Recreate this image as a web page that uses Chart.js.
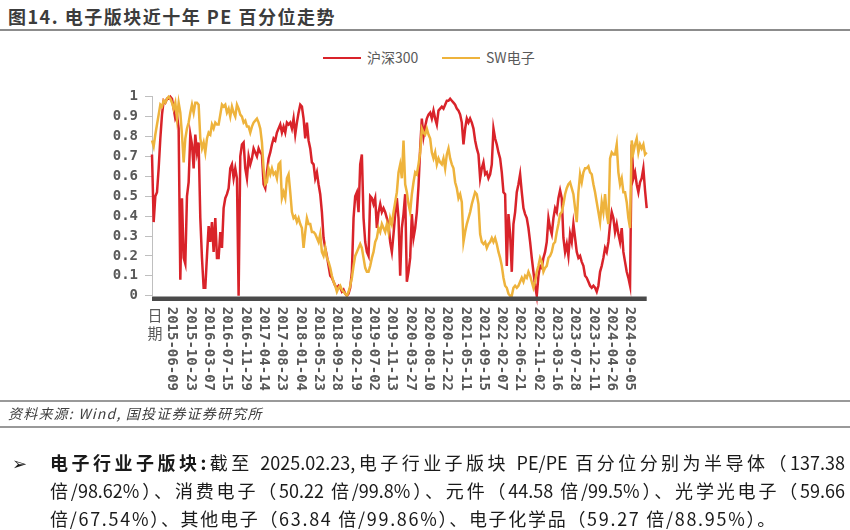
<!DOCTYPE html>
<html>
<head>
<meta charset="utf-8">
<script src="https://cdn.jsdelivr.net/npm/chart.js@4.4.1/dist/chart.umd.min.js"></script>
<style>
  body { margin: 0; background: #fff; width: 850px; height: 530px; position: relative; overflow: hidden; font-family: "Noto Sans CJK SC", sans-serif; }
  #c { position: absolute; left: 0; top: 0; }
  .title { position: absolute; left: 8px; top: 3px; font-size: 18px; font-weight: bold; color: #3c3c3c; letter-spacing: 1.5px; white-space: nowrap; }
  .rule { position: absolute; left: 0; width: 850px; background: #8c8c8c; }
  .legend { position: absolute; top: 47px; font-size: 14px; color: #595959; white-space: nowrap; line-height: 20px; }
  .legend i { display: inline-block; width: 38px; height: 2.5px; vertical-align: middle; margin-right: 6px; position: relative; top: -1px; }
  .src { position: absolute; left: 8px; top: 403px; font-size: 14px; font-style: italic; color: #404040; letter-spacing: 1.2px; white-space: nowrap; }
  .para { position: absolute; left: 50px; width: 795px; font-size: 18px; color: #1a1a1a; line-height: 28px; white-space: nowrap; }
  .just { text-align: justify; text-align-last: justify; }
</style>
</head>
<body>
<div class="title">图14. 电子版块近十年 PE 百分位走势</div>
<div class="rule" style="top:29px;height:2px;"></div>
<div class="legend" style="left:323px;"><i style="background:#d9232a"></i>沪深300</div>
<div class="legend" style="left:442px;"><i style="background:#eeb33c"></i>SW电子</div>
<canvas id="c" width="850" height="530"></canvas>
<div class="rule" style="top:400px;height:1.5px;background:#999"></div>
<div class="src">资料来源: Wind, 国投证券证券研究所</div>
<div class="rule" style="top:426px;height:1.5px;background:#999"></div>
<div class="para" style="left:12px;width:30px;top:448px;">➢</div>
<div class="para just" style="top:448px;"><b>电子行业子版块:</b>截至 2025.02.23,电子行业子版块 PE/PE 百分位分别为半导体（137.38</div>
<div class="para just" style="top:476px;">倍/98.62%）、消费电子（50.22 倍/99.8%）、元件（44.58 倍/99.5%）、光学光电子（59.66</div>
<div class="para" style="top:504px;letter-spacing:1.7px;">倍/67.54%）、其他电子（63.84 倍/99.86%）、电子化学品（59.27 倍/88.95%）。</div>
<script>
// PE percentile, sampled evenly over the trading days (index = sample no.)
const hs300 = [
  0.71,0.37,0.50,0.52,0.64,0.79,0.91,0.98,0.97,0.99,
  0.99,1.00,0.99,0.94,0.89,0.91,0.84,0.08,0.49,0.19,
  0.16,0.50,0.57,0.81,0.76,0.64,0.81,0.72,0.77,0.39,
  0.19,0.04,0.04,0.20,0.35,0.27,0.37,0.22,0.39,0.19,
  0.19,0.32,0.24,0.44,0.49,0.51,0.54,0.64,0.66,0.59,
  0.64,0.59,0.00,0.70,0.76,0.77,0.64,0.59,0.70,0.66,
  0.69,0.74,0.72,0.70,0.74,0.72,0.71,0.56,0.54,0.62,
  0.69,0.72,0.76,0.79,0.78,0.82,0.84,0.86,0.82,0.85,
  0.82,0.87,0.86,0.87,0.84,0.89,0.81,0.87,0.92,0.96,
  0.95,0.89,0.79,0.87,0.78,0.74,0.67,0.66,0.59,0.62,
  0.56,0.51,0.42,0.29,0.24,0.20,0.15,0.10,0.09,0.07,
  0.05,0.04,0.05,0.04,0.02,0.03,0.01,0.00,0.01,0.04,
  0.12,0.39,0.50,0.52,0.42,0.66,0.71,0.39,0.27,0.22,
  0.20,0.50,0.49,0.46,0.49,0.34,0.42,0.46,0.42,0.44,
  0.42,0.39,0.36,0.27,0.22,0.31,0.41,0.49,0.39,0.10,
  0.34,0.41,0.51,0.07,0.12,0.19,0.41,0.29,0.34,0.42,
  0.55,0.74,0.89,0.80,0.85,0.89,0.91,0.92,0.89,0.93,
  0.89,0.86,0.93,0.94,0.95,0.94,0.96,0.98,0.98,0.99,
  0.98,0.97,0.96,0.94,0.93,0.91,0.87,0.76,0.84,0.89,
  0.87,0.89,0.87,0.84,0.78,0.74,0.71,0.59,0.64,0.67,
  0.61,0.62,0.59,0.61,0.66,0.84,0.79,0.76,0.72,0.69,
  0.62,0.52,0.51,0.15,0.41,0.31,0.12,0.36,0.42,0.52,
  0.56,0.61,0.52,0.44,0.41,0.39,0.34,0.27,0.19,0.12,
  0.05,0.00,0.10,0.15,0.14,0.19,0.22,0.27,0.39,0.34,
  0.31,0.39,0.44,0.42,0.49,0.53,0.49,0.29,0.22,0.26,
  0.20,0.31,0.27,0.36,0.29,0.22,0.19,0.20,0.17,0.15,
  0.10,0.09,0.07,0.05,0.04,0.05,0.04,0.02,0.05,0.12,
  0.15,0.19,0.24,0.22,0.27,0.36,0.42,0.39,0.32,0.36,
  0.31,0.27,0.34,0.22,0.17,0.12,0.09,0.05,0.76,0.59,
  0.62,0.56,0.52,0.57,0.59,0.64,0.53,0.44
];
const swElec = [
  0.78,0.75,0.81,0.86,0.91,0.96,0.95,0.98,0.97,0.99,
  1.00,0.99,0.97,0.94,0.97,0.89,0.97,0.92,0.81,0.67,
  0.79,0.84,0.87,0.92,0.96,0.92,0.97,0.97,0.96,0.79,
  0.74,0.77,0.72,0.79,0.82,0.81,0.86,0.84,0.87,0.86,
  0.86,0.91,0.96,0.95,0.96,0.92,0.94,0.90,0.95,0.92,
  0.90,0.96,0.94,0.91,0.90,0.87,0.88,0.85,0.85,0.82,
  0.85,0.87,0.88,0.89,0.87,0.84,0.77,0.64,0.56,0.57,
  0.64,0.61,0.64,0.61,0.62,0.59,0.66,0.67,0.49,0.52,
  0.49,0.59,0.61,0.52,0.42,0.39,0.40,0.37,0.39,0.36,
  0.34,0.24,0.32,0.39,0.36,0.36,0.32,0.32,0.31,0.29,
  0.27,0.31,0.22,0.20,0.24,0.19,0.17,0.14,0.10,0.07,
  0.05,0.02,0.04,0.05,0.03,0.02,0.01,0.00,0.02,0.05,
  0.09,0.15,0.20,0.22,0.24,0.26,0.24,0.19,0.14,0.12,
  0.12,0.15,0.19,0.22,0.27,0.29,0.34,0.32,0.36,0.34,
  0.32,0.36,0.32,0.39,0.36,0.42,0.47,0.52,0.62,0.66,
  0.59,0.78,0.56,0.52,0.46,0.42,0.51,0.57,0.62,0.61,
  0.66,0.72,0.84,0.82,0.81,0.84,0.81,0.79,0.72,0.69,
  0.72,0.66,0.69,0.67,0.66,0.69,0.64,0.71,0.74,0.69,
  0.66,0.64,0.57,0.54,0.49,0.51,0.47,0.27,0.32,0.36,
  0.39,0.42,0.46,0.49,0.52,0.51,0.46,0.31,0.27,0.26,
  0.27,0.24,0.26,0.27,0.29,0.27,0.29,0.26,0.22,0.19,
  0.15,0.09,0.05,0.04,0.01,0.00,0.00,0.04,0.05,0.04,
  0.05,0.07,0.09,0.07,0.10,0.09,0.12,0.10,0.07,0.04,
  0.07,0.12,0.15,0.19,0.17,0.12,0.14,0.15,0.19,0.20,
  0.22,0.26,0.27,0.32,0.36,0.41,0.42,0.46,0.51,0.54,
  0.56,0.57,0.54,0.51,0.44,0.37,0.52,0.61,0.57,0.62,
  0.64,0.64,0.65,0.62,0.61,0.56,0.52,0.47,0.42,0.37,
  0.47,0.42,0.51,0.41,0.36,0.69,0.72,0.71,0.71,0.76,
  0.62,0.56,0.59,0.52,0.52,0.47,0.39,0.34,0.78,0.72,
  0.76,0.79,0.72,0.76,0.74,0.76,0.71,0.72
];
const tickDates = [
  '2015-06-09','2015-10-23','2016-03-07','2016-07-15','2016-11-29','2017-04-14',
  '2017-08-23','2018-01-04','2018-05-23','2018-09-28','2019-02-19','2019-07-02',
  '2019-11-13','2020-03-27','2020-08-10','2020-12-22','2021-05-11','2021-09-15',
  '2022-02-07','2022-06-21','2022-11-02','2023-03-16','2023-07-28','2023-12-11',
  '2024-04-26','2024-09-05'
];
const firstTickIdx = 12;   // sample index of the first dated tick
const tickEvery = 11;      // samples between dated ticks

const toPoints = arr => arr.map((v, i) => ({ x: i, y: v }));

// vertical date labels (top-to-bottom) + thick x axis bar + "日期"
const xAxisPlugin = {
  id: 'xAxisPlugin',
  afterDraw(chart) {
    const { ctx, chartArea, scales: { x } } = chart;
    ctx.save();
    ctx.fillStyle = '#4a4a4a';
    ctx.fillRect(chartArea.left, chartArea.bottom + 0.8, chartArea.right - chartArea.left, 4.5);

    ctx.fillStyle = '#595959';
    ctx.font = 'bold 14px "DejaVu Sans Mono"';
    ctx.textAlign = 'left';
    ctx.textBaseline = 'middle';
    tickDates.forEach((d, k) => {
      const px = x.getPixelForValue(firstTickIdx + k * tickEvery);
      ctx.save();
      ctx.translate(px, chartArea.bottom + 11);
      ctx.rotate(Math.PI / 2);
      ctx.fillText(d, 0, 0);
      ctx.restore();
    });

    ctx.font = '15px "Noto Sans CJK SC"';
    ctx.textAlign = 'center';
    ctx.fillText('日', chartArea.left + 3, chartArea.bottom + 20);
    ctx.fillText('期', chartArea.left + 3, chartArea.bottom + 38);
    ctx.restore();
  }
};

new Chart(document.getElementById('c'), {
  type: 'line',
  data: {
    datasets: [
      {
        label: 'SW电子',
        data: toPoints(swElec),
        borderColor: '#eeb33c',
        borderWidth: 2.5,
        pointRadius: 0,
        tension: 0,
        clip: false
      },
      {
        label: '沪深300',
        data: toPoints(hs300),
        borderColor: '#d9232a',
        borderWidth: 2.5,
        pointRadius: 0,
        tension: 0,
        clip: false
      }
    ]
  },
  options: {
    responsive: false,
    animation: false,
    layout: { padding: { left: 0, top: 96.7, right: 203.3, bottom: 234.3 } },
    plugins: { legend: { display: false }, tooltip: { enabled: false } },
    scales: {
      x: {
        type: 'linear',
        min: 0,
        max: hs300.length - 1,
        display: false
      },
      y: {
        min: 0,
        max: 1,
        ticks: {
          stepSize: 0.1,
          padding: 7,
          color: '#595959',
          font: { family: 'DejaVu Sans Mono', size: 14, weight: 'bold' },
          callback: v => (v === 0 || v === 1) ? String(v) : v.toFixed(1)
        },
        grid: { drawOnChartArea: false, tickLength: 7, color: '#bfbfbf' },
        border: { color: '#bfbfbf' },
        afterFit: s => { s.width = 152; }
      }
    }
  },
  plugins: [xAxisPlugin]
});
</script>
</body>
</html>
